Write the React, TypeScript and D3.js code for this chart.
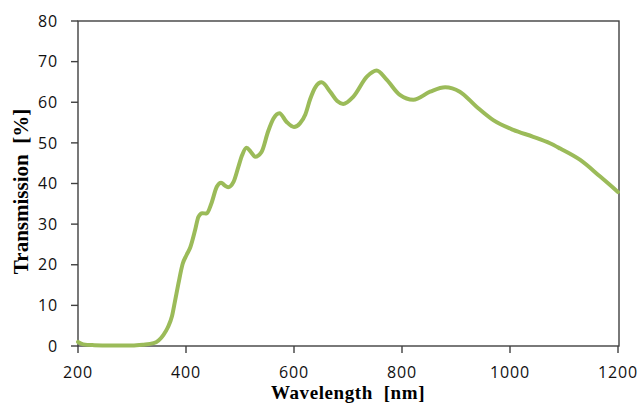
import React from "react";
import * as d3 from "d3";

const wavelength = [
  200, 210, 230, 260, 300, 320, 340, 358, 366, 374, 380, 386, 394, 401, 408, 417,
  423, 430, 438, 447, 457, 465, 472, 478, 488, 497, 504, 512, 520, 528, 540, 552,
  562, 573, 586, 600, 611, 621, 630, 640, 651, 667, 680, 691, 710, 735, 753, 772, 796,
  821, 852, 880, 907, 938, 969, 1006, 1043, 1074, 1093, 1130, 1167, 1200,
];
const transmission = [
  1.0, 0.4, 0.2, 0.1, 0.1, 0.3, 0.7, 2.7, 4.5, 7.3, 11.3, 15.4, 20.3, 22.4, 24.3, 28.6,
  31.8, 32.7, 32.6, 35.1, 39.2, 40.2, 39.5, 39.1, 40.4, 44.1, 47.0, 48.8, 47.8, 46.6, 47.8, 52.8,
  56.0, 57.3, 55.2, 53.9, 54.8, 57.0, 60.8, 63.8, 64.9, 62.6, 60.3, 59.6, 61.4, 66.3, 67.8, 65.5, 61.8,
  60.6, 62.6, 63.7, 62.6, 58.9, 55.6, 53.2, 51.5, 49.9, 48.6, 45.8, 41.7, 37.9,
];
const xTicks = [200, 400, 600, 800, 1000, 1200];
const yTicks = [0, 10, 20, 30, 40, 50, 60, 70, 80];

const W = 641;
const H = 404;
const left = 78, right = 618, top = 21, bottom = 346;
const axisColor = "#404040";
const tickFont = "'Open Sans', sans-serif";
const titleFont = "'Liberation Serif', 'Times New Roman', serif";

export default function App() {
  const x = d3.scaleLinear().domain([200, 1200]).range([left, right]);
  const y = d3.scaleLinear().domain([0, 80]).range([bottom, top]);

  const pts: [number, number][] = wavelength.map((w, i) => [w, transmission[i]]);
  const line = d3
    .line<[number, number]>()
    .x((d) => x(d[0]))
    .y((d) => y(d[1]))
    .curve(d3.curveMonotoneX);

  return (
    <svg
      width={W}
      height={H}
      style={{ position: "absolute", left: 0, top: 0, background: "#fff" }}
    >
      {/* frame */}
      <rect
        x={left}
        y={top}
        width={right + 1 - left}
        height={bottom - top}
        fill="none"
        stroke={axisColor}
        strokeWidth={1.4}
      />
      {yTicks.map((t) => (
        <g key={"y" + t}>
          <line x1={left - 7} x2={left} y1={y(t)} y2={y(t)} stroke={axisColor} strokeWidth={1.4} />
          <text
            x={58}
            y={y(t) + 5.7}
            textAnchor="end"
            fontFamily={tickFont}
            fontSize={16}
            letterSpacing={0.8}
            fill="#111"
          >
            {t}
          </text>
        </g>
      ))}
      {xTicks.map((t) => (
        <g key={"x" + t}>
          <line x1={x(t)} x2={x(t)} y1={bottom} y2={bottom + 7} stroke={axisColor} strokeWidth={1.4} />
          <text
            x={x(t)}
            y={377.5}
            textAnchor="middle"
            fontFamily={tickFont}
            fontSize={16}
            letterSpacing={0.8}
            fill="#111"
          >
            {t}
          </text>
        </g>
      ))}
      <path
        d={line(pts) || ""}
        fill="none"
        stroke="#9BBB59"
        strokeWidth={4}
        strokeLinejoin="round"
        strokeLinecap="round"
      />
      <text
        x={(left + right) / 2}
        y={399}
        textAnchor="middle"
        fontFamily={titleFont}
        fontWeight="bold"
        fontSize={19}
        letterSpacing={0.6}
        fill="#000"
        style={{ whiteSpace: "pre" }}
      >
        Wavelength  [nm]
      </text>
      <text
        transform={`translate(28, ${(top + bottom) / 2 + 8}) rotate(-90)`}
        textAnchor="middle"
        fontFamily={titleFont}
        fontWeight="bold"
        fontSize={21}
        fill="#000"
        style={{ whiteSpace: "pre" }}
      >
        Transmission  [%]
      </text>
    </svg>
  );
}
